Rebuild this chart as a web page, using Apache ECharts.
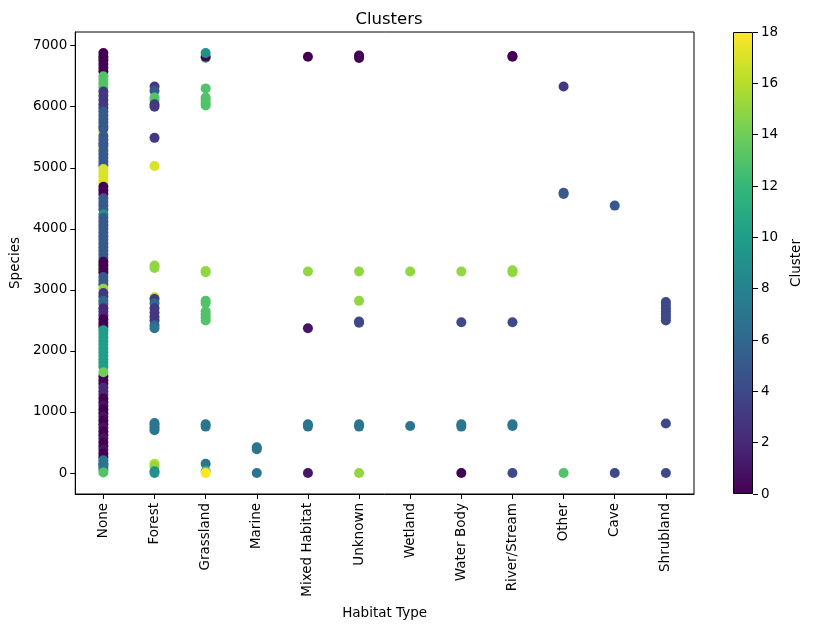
<!DOCTYPE html>
<html>
<head>
<meta charset="utf-8">
<script src="https://cdn.jsdelivr.net/npm/echarts@6/dist/echarts.min.js"></script>
<style>html,body{margin:0;padding:0;background:#fff;}#c{width:813px;height:630px;}</style>
</head>
<body>
<div id="c"></div>
<script>
// ---- data ----
const habitats = ['None','Forest','Grassland','Marine','Mixed Habitat','Unknown','Wetland','Water Body','River/Stream','Other','Cave','Shrubland'];
const yTicks = [0,1000,2000,3000,4000,5000,6000,7000];
const clusterTicks = [0,2,4,6,8,10,12,14,16,18];
const viridis = ['#440154','#482878','#3e4989','#31688e','#26828e','#1f9e89','#35b779','#6ece58','#b5de2b','#fde725'];

// [species, cluster] per habitat, in draw order
const ptsNone = [
  [6800,13],[5580,17],[5320,17],[3430,15],[3310,15],[2380,13],
  [6880,0],[6820,0],[6760,0],[6700,0],[6640,0],[6580,0],
  [6500,13],[6440,13],[6380,13],[6320,13],
  [6250,3],[6180,3],[6110,3],[6040,3],[5980,3],
  [5920,5],[5860,5],[5800,5],[5740,5],[5680,5],[5640,5],[5520,5],[5460,5],[5400,5],[5360,5],[5280,5],[5220,5],[5160,5],[5100,5],[5040,5],
  [4980,17],[4920,17],[4860,17],[4800,17],[4750,17],
  [4690,0],[4630,0],[4570,0],
  [4500,5],[4440,5],[4380,5],[4320,5],
  [4240,9],
  [4180,5],[4120,5],[4060,5],[4000,5],[3940,5],[3880,5],[3820,5],[3760,5],[3700,5],[3640,5],[3580,5],[3520,5],
  [3460,0],[3400,0],[3340,0],[3280,0],
  [3210,5],[3150,5],[3090,5],
  [3020,15],
  [2950,3],[2890,3],
  [2820,6],[2770,6],
  [2700,2],[2640,2],[2580,2],
  [2520,0],[2460,0],[2410,0],
  [2340,10],[2280,10],[2220,10],[2160,10],[2100,10],[2040,10],[1980,10],[1920,10],[1860,10],[1800,10],[1740,10],
  [1580,0],[1520,0],[1460,0],
  [1400,2],[1340,2],[1280,2],
  [1220,0],[1160,0],[1100,1],[1040,0],[980,0],[920,1],[860,0],[800,0],[740,1],[680,0],[620,0],[560,1],[500,0],[440,0],[380,1],[320,0],[260,0],
  [1650,14],
  [140,4],[210,7],[160,7],[110,7],[60,7],
  [10,13]
];
const ptsForest = [
  [6330,3],[6260,5],[6150,13],[6110,13],[6040,3],[6000,3],[5490,3],[5030,17],
  [3400,15],[3360,15],
  [2880,16],[2850,3],[2780,6],[2700,3],[2630,3],[2560,3],[2500,3],[2420,6],[2370,7],
  [720,17],[820,7],[790,7],[750,7],[700,7],
  [150,16],[110,15],[30,9],[0,9]
];
const ptsGrassland = [
  [6800,13],[6820,0],[6880,9],[6300,13],[6150,13],[6110,13],[6060,13],[6020,13],
  [3310,15],[3290,15],[2820,13],[2780,13],[2650,13],[2600,13],[2550,13],[2500,13],
  [800,7],[760,7],[150,7],[30,13],[0,18]
];
const ptsMarine = [[420,7],[390,7],[0,7]];
const ptsMixed = [[6820,0],[3300,15],[2370,1],[800,7],[760,7],[0,1]];
const ptsUnknown = [[6840,0],[6800,0],[3300,15],[2820,15],[2480,4],[2460,4],[800,7],[760,7],[0,15]];
const ptsWetland = [[3300,15],[770,7]];
const ptsWaterBody = [[3300,15],[2470,4],[800,7],[760,7],[0,0]];
const ptsRiver = [[6830,0],[6820,0],[3320,15],[3290,15],[2470,4],[800,7],[770,7],[0,4]];
const ptsOther = [[6330,3],[4590,5],[4570,5],[0,13]];
const ptsCave = [[4380,5],[0,4]];
const ptsShrubland = [[2800,4],[2750,4],[2700,4],[2650,4],[2600,4],[2550,4],[2500,4],[810,4],[0,4]];

const allPts = [ptsNone,ptsForest,ptsGrassland,ptsMarine,ptsMixed,ptsUnknown,ptsWetland,ptsWaterBody,ptsRiver,ptsOther,ptsCave,ptsShrubland];

// ---- build ----
const scatterData = [];
allPts.forEach((arr,i)=>arr.forEach(p=>scatterData.push([i,p[0],p[1]])));

const FONT = 'DejaVu Sans';
const txt = {fontFamily: FONT, fontSize: 13.5, color: '#000'};
const gradStops = viridis.map((c,i)=>({offset: i/(viridis.length-1), color: c}));

const chart = echarts.init(document.getElementById('c'), null, {renderer:'canvas'});
chart.setOption({
  backgroundColor: '#fff',
  animation: false,
  title: {text: 'Clusters', left: 384, top: 6, textAlign: 'center',
    textStyle: {fontFamily: FONT, fontSize: 16.5, fontWeight: 'normal', color: '#000'}},
  grid: [
    {left: 74, top: 32, width: 620, height: 462, show: true, borderColor: '#000', borderWidth: 1, backgroundColor: 'transparent'},
    {left: 733, top: 32, width: 20, height: 462}
  ],
  xAxis: [
    {type: 'value', gridIndex: 0, min: -0.55, max: 11.55,
     name: 'Habitat Type', nameLocation: 'middle', nameGap: 112, nameTextStyle: txt,
     axisLine: {show: true, onZero: false, lineStyle: {color: '#000'}},
     axisTick: {show: true, inside: false, length: 5, customValues: habitats.map((h,i)=>i), lineStyle: {color: '#000'}},
     axisLabel: {show: true, rotate: 90, margin: 9, customValues: habitats.map((h,i)=>i), formatter: v => habitats[Math.round(v)], ...txt},
     splitLine: {show: false}},
    {type: 'category', gridIndex: 1, data: [''], boundaryGap: true, show: false}
  ],
  yAxis: [
    {type: 'value', gridIndex: 0, min: -344, max: 7224,
     name: 'Species', nameLocation: 'middle', nameGap: 52, nameRotate: 90, nameTextStyle: txt,
     axisLine: {show: true, onZero: false, lineStyle: {color: '#000'}},
     axisTick: {show: true, inside: false, length: 5, customValues: yTicks, lineStyle: {color: '#000'}},
     axisLabel: {show: true, margin: 8, customValues: yTicks, formatter: v => String(v), ...txt},
     splitLine: {show: false}},
    {type: 'value', gridIndex: 1, position: 'right', min: 0, max: 18, interval: 2,
     name: 'Cluster', nameLocation: 'middle', nameGap: 36, nameRotate: 90, nameTextStyle: txt,
     axisLine: {show: false},
     axisTick: {show: true, inside: false, length: 5, lineStyle: {color: '#000'}},
     axisLabel: {show: true, margin: 8, formatter: v => String(v), ...txt},
     splitLine: {show: false}}
  ],
  visualMap: {type: 'continuous', show: false, min: 0, max: 18, dimension: 2, seriesIndex: 0,
    inRange: {color: viridis}},
  series: [
    {type: 'scatter', xAxisIndex: 0, yAxisIndex: 0, symbol: 'circle', symbolSize: 10,
     itemStyle: {opacity: 1}, data: scatterData, emphasis: {disabled: true}},
    {type: 'bar', xAxisIndex: 1, yAxisIndex: 1, barWidth: '100%', data: [18],
     itemStyle: {borderColor: '#000', borderWidth: 1,
       color: new echarts.graphic.LinearGradient(0, 1, 0, 0, gradStops)},
     emphasis: {disabled: true}}
  ]
});
</script>
</body>
</html>
